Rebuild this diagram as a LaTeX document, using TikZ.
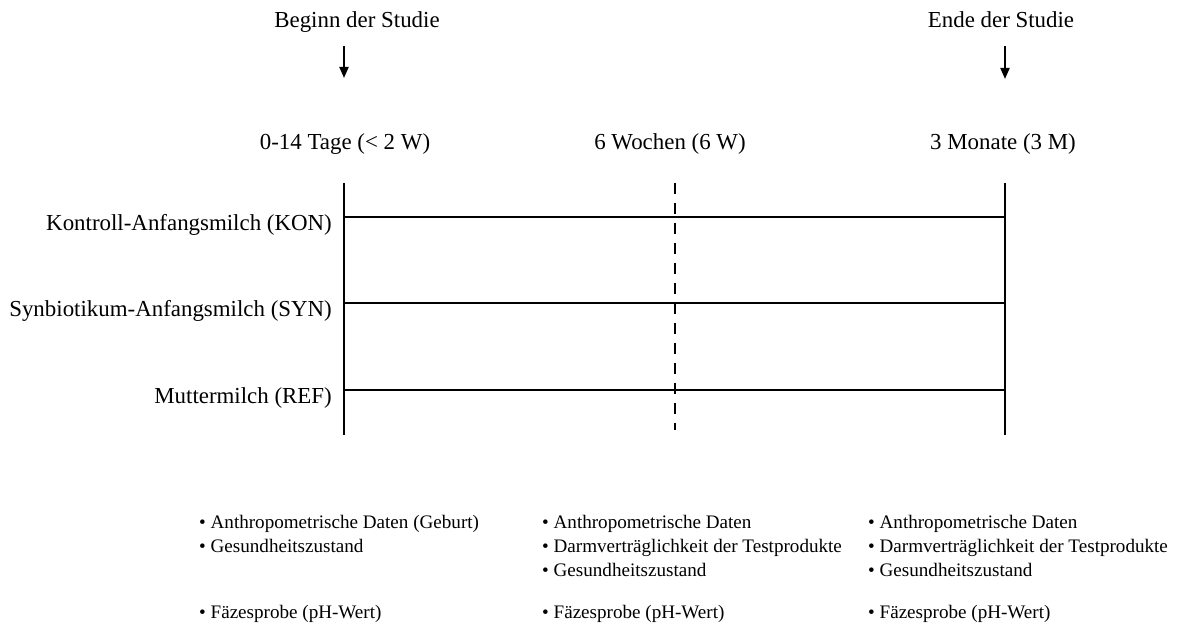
\documentclass[tikz,border=0pt]{standalone}
\usepackage{fontspec}
\setmainfont{Liberation Serif}
\usetikzlibrary{arrows.meta}
\begin{document}
\begin{tikzpicture}[x=1pt,y=-1pt,
  big/.style={font=\fontsize{22.9}{27}\selectfont,inner sep=0pt},
  small/.style={font=\fontsize{19.1}{24}\selectfont,inner sep=0pt,anchor=base west},
  axis/.style={line width=2pt},
  period/.style={line width=2pt},
  mid/.style={line width=1.6pt,dash pattern=on 11pt off 9pt},
  startarrow/.style={line width=2pt,-{Triangle[length=11pt,width=9pt]}}]
\useasboundingbox (0,0) rectangle (1187,628);
% headers
\node[big,anchor=base] (beg) at (357,28) {Beginn der Studie};
\node[big,anchor=base] (end) at (1001,28) {Ende der Studie};
\coordinate (a1s) at (344,46); \coordinate (a1e) at (344,78);
\coordinate (a2s) at (1005,46); \coordinate (a2e) at (1005,79);
\draw[startarrow] (a1s) -- (a1e);
\draw[startarrow] (a2s) -- (a2e);
% time points
\node[big,anchor=base] (t1) at (345,150) {0-14 Tage (< 2 W)};
\node[big,anchor=base] (t2) at (670,150) {6 Wochen (6 W)};
\node[big,anchor=base] (t3) at (1003,150) {3 Monate (3 M)};
% axes
\coordinate (v1t) at (344,183); \coordinate (v1b) at (344,435);
\coordinate (v2t) at (675,183); \coordinate (v2b) at (675,430);
\coordinate (v3t) at (1005,183); \coordinate (v3b) at (1005,435);
\draw[axis] (v1t) -- (v1b);
\draw[axis] (v3t) -- (v3b);
\draw[mid] (v2t) -- (v2b);
% groups
\node[big,anchor=base east] (kon) at (332,231) {Kontroll-Anfangsmilch (KON)};
\node[big,anchor=base east] (syn) at (332,317) {Synbiotikum-Anfangsmilch (SYN)};
\node[big,anchor=base east] (ref) at (332,404) {Muttermilch (REF)};
\coordinate (h1a) at (344,217); \coordinate (h1b) at (1005,217);
\coordinate (h2a) at (344,303); \coordinate (h2b) at (1005,303);
\coordinate (h3a) at (344,390); \coordinate (h3b) at (1005,390);
\draw[period] (h1a) -- (h1b);
\draw[period] (h2a) -- (h2b);
\draw[period] (h3a) -- (h3b);
% measurements
\node[small] (c1a) at (199,528) {• Anthropometrische Daten (Geburt)};
\node[small] (c1b) at (199,552) {• Gesundheitszustand};
\node[small] (c1f) at (199,618) {• Fäzesprobe (pH-Wert)};
\node[small] (c2a) at (542,528) {• Anthropometrische Daten};
\node[small] (c2b) at (542,552) {• Darmverträglichkeit der Testprodukte};
\node[small] (c2c) at (542,576) {• Gesundheitszustand};
\node[small] (c2f) at (542,618) {• Fäzesprobe (pH-Wert)};
\node[small] (c3a) at (868,528) {• Anthropometrische Daten};
\node[small] (c3b) at (868,552) {• Darmverträglichkeit der Testprodukte};
\node[small] (c3c) at (868,576) {• Gesundheitszustand};
\node[small] (c3f) at (868,618) {• Fäzesprobe (pH-Wert)};
\end{tikzpicture}
\end{document}
